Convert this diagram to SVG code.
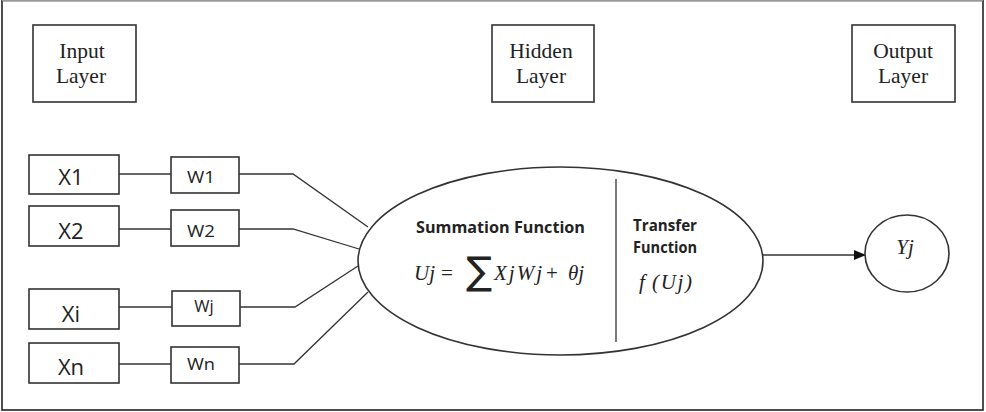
<svg xmlns="http://www.w3.org/2000/svg" width="986" height="412" viewBox="0 0 986 412">
<defs>
<style>
.box{fill:#fff;stroke:#333;stroke-width:1.6}
.ln{fill:none;stroke:#333;stroke-width:1.3}
.serif{font-family:"Liberation Serif","Times New Roman",serif;font-size:21.5px;fill:#222;text-anchor:middle}
.xs{font-family:"Open Sans","DejaVu Sans",sans-serif;font-size:22px;fill:#222;text-anchor:middle}
.ws{font-family:"Open Sans","DejaVu Sans",sans-serif;font-size:16.5px;fill:#222;text-anchor:middle}
.bold{font-family:"Open Sans","DejaVu Sans",sans-serif;font-size:15.5px;font-weight:bold;fill:#222}
.math{font-family:"Liberation Serif","DejaVu Serif",serif;font-style:italic;font-size:21px;fill:#222}
.mup{font-family:"Liberation Serif","DejaVu Serif",serif;font-size:21px;fill:#222}
</style>
<marker id="arr" markerWidth="12" markerHeight="10" refX="11" refY="5" orient="auto" markerUnits="userSpaceOnUse">
<path d="M0,0 L12,5 L0,10 Z" fill="#111"/>
</marker>
</defs>
<rect x="0" y="0" width="986" height="412" fill="#fff"/>
<rect id="frame" x="2" y="0.5" width="981" height="409.5" fill="none" stroke="#222" stroke-width="1.6"/>
<line x1="2" y1="0.5" x2="983" y2="0.5" stroke="#999" stroke-width="1.5"/>

<g id="input-layer"><rect class="box" x="33" y="25" width="103" height="77"/><text class="serif" x="82" y="58">Input</text><text class="serif" x="81" y="83">Layer</text></g>
<g id="hidden-layer"><rect class="box" x="492" y="25" width="102" height="77"/><text class="serif" x="541" y="58">Hidden</text><text class="serif" x="541" y="83">Layer</text></g>
<g id="output-layer"><rect class="box" x="852" y="25" width="103" height="77"/><text class="serif" x="903" y="58">Output</text><text class="serif" x="903" y="83">Layer</text></g>

<g id="connectors">
<line class="ln" x1="119" y1="174" x2="171" y2="174"/>
<line class="ln" x1="119" y1="229" x2="171" y2="229"/>
<line class="ln" x1="119" y1="307" x2="172" y2="307"/>
<line class="ln" x1="119" y1="364" x2="171" y2="364"/>
<polyline class="ln" points="239,174 293,174 368,227"/>
<polyline class="ln" points="239,229 293,229 359,249"/>
<polyline class="ln" points="240,307 295,307 358,266"/>
<polyline class="ln" points="239,364 294,364 368,292"/>
<line class="ln" x1="763" y1="255" x2="865" y2="255" marker-end="url(#arr)"/>
</g>

<g id="x1"><rect class="box" x="29" y="155" width="90" height="39"/><text class="xs" x="71" y="185">X1</text></g>
<g id="x2"><rect class="box" x="29" y="206" width="90" height="40"/><text class="xs" x="71" y="239">X2</text></g>
<g id="xi"><rect class="box" x="29" y="289" width="90" height="40"/><text class="xs" x="71" y="322">Xi</text></g>
<g id="xn"><rect class="box" x="29" y="343" width="90" height="40"/><text class="xs" x="71" y="375">Xn</text></g>

<g id="w1"><rect class="box" x="171" y="157" width="68" height="36"/><text class="ws" x="201" y="183" textLength="28" lengthAdjust="spacingAndGlyphs">W1</text></g>
<g id="w2"><rect class="box" x="171" y="210" width="68" height="36"/><text class="ws" x="201" y="237" textLength="28" lengthAdjust="spacingAndGlyphs">W2</text></g>
<g id="wj"><rect class="box" x="172" y="291" width="68" height="35"/><text class="ws" x="204" y="312">Wj</text></g>
<g id="wn"><rect class="box" x="171" y="347" width="68" height="36"/><text class="ws" x="201" y="370" textLength="28" lengthAdjust="spacingAndGlyphs">Wn</text></g>

<g id="neuron">
<ellipse class="box" cx="560.5" cy="261" rx="202.5" ry="94"/>
<line class="ln" x1="616" y1="179" x2="616" y2="342" stroke-width="1.6"/>
<text class="bold" x="416" y="233" textLength="169" lengthAdjust="spacingAndGlyphs">Summation Function</text>
<text class="math" x="414" y="280">Uj</text>
<text class="mup" x="441" y="280">=</text>
<text x="466" y="284" style="font-family:'DejaVu Sans',sans-serif;font-size:38px;fill:#222" textLength="26" lengthAdjust="spacingAndGlyphs">∑</text>
<text class="math" x="494" y="280" textLength="48" lengthAdjust="spacing">XjWj</text>
<text class="mup" x="546" y="280">+</text>
<text class="math" x="568" y="280">θj</text>
<text class="bold" x="633" y="231" textLength="64" lengthAdjust="spacingAndGlyphs">Transfer</text>
<text class="bold" x="633" y="253" textLength="64" lengthAdjust="spacingAndGlyphs">Function</text>
<text class="math" x="639" y="289">f</text>
<text class="math" x="652" y="289" textLength="40" lengthAdjust="spacing">(Uj)</text>
</g>

<g id="yj"><ellipse class="box" cx="907" cy="253.5" rx="42" ry="38.5"/><text class="math" x="905" y="254" text-anchor="middle">Yj</text></g>
</svg>
